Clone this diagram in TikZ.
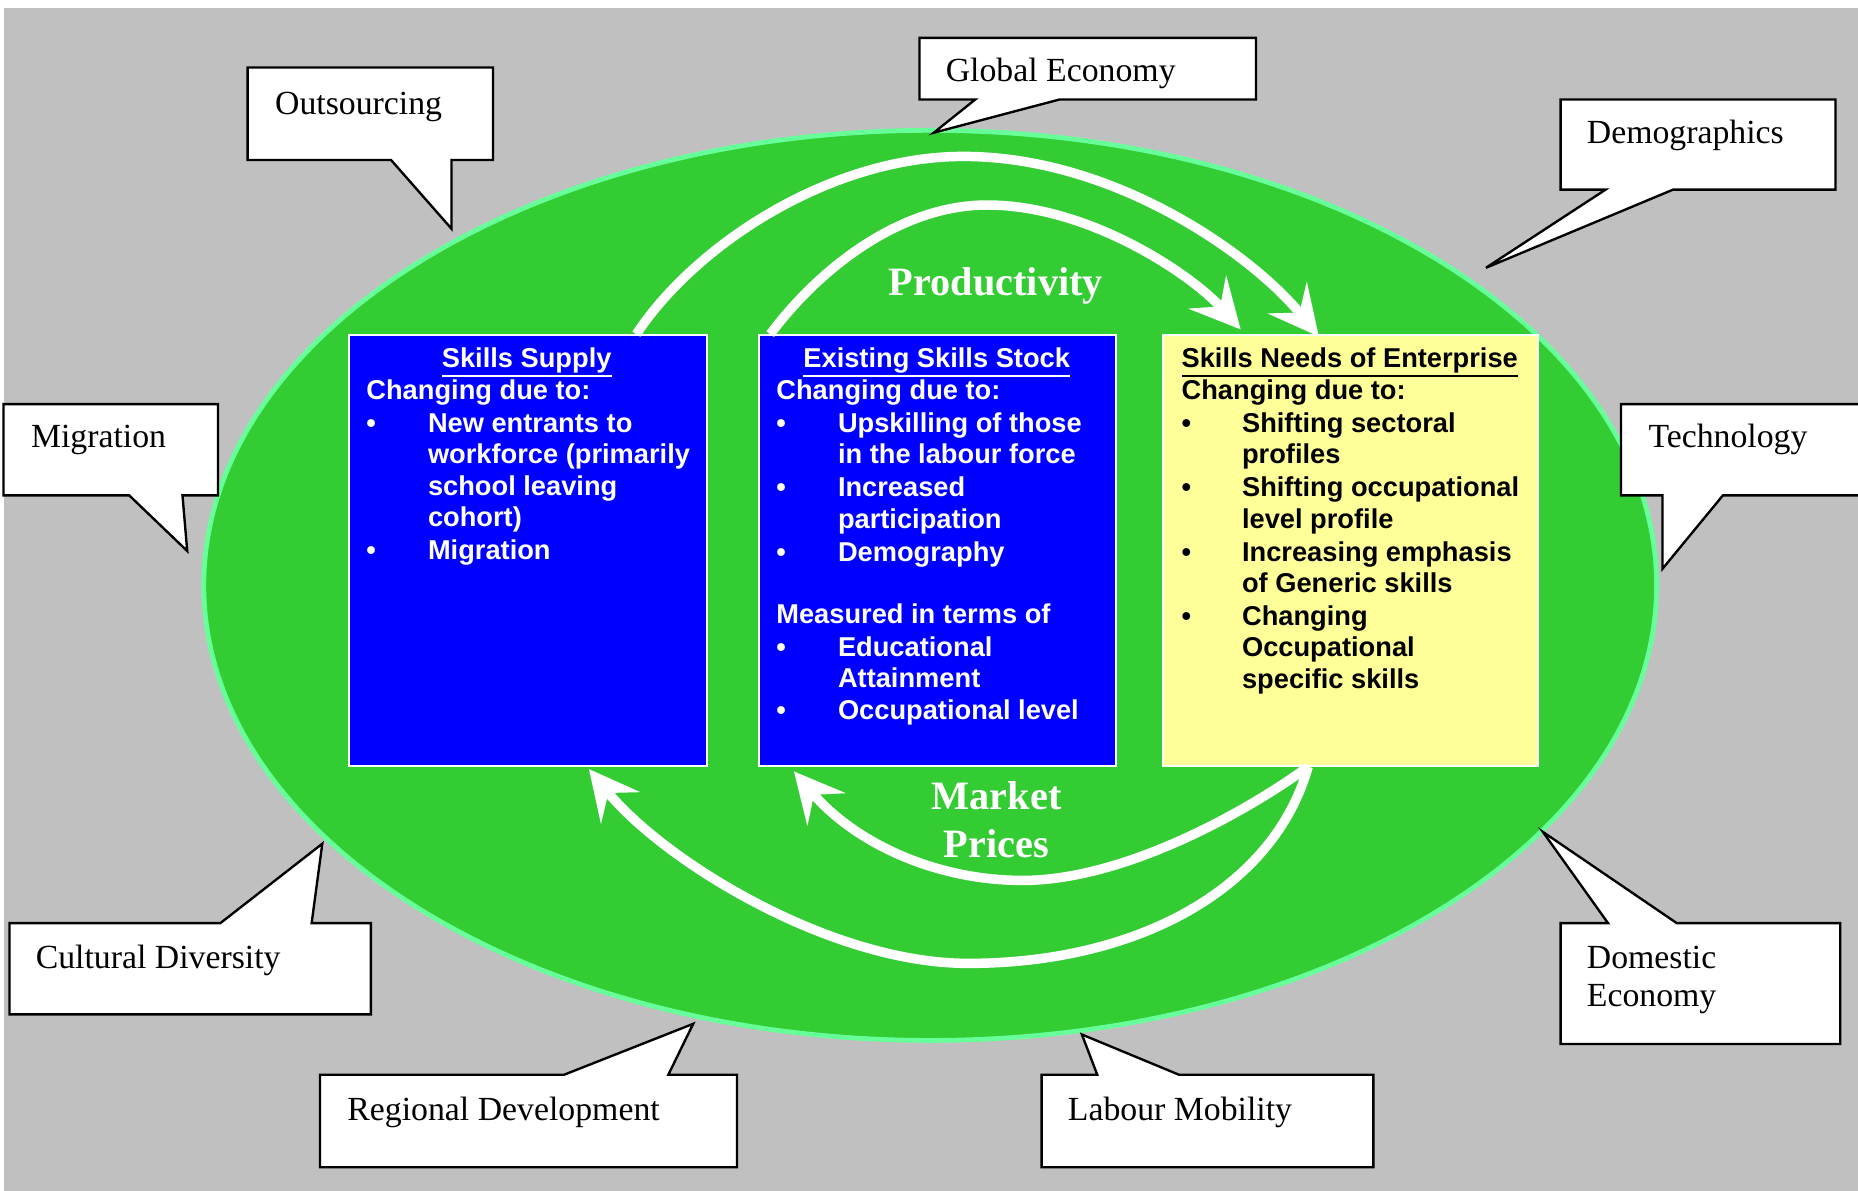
\documentclass[tikz,border=0pt]{standalone}
\usepackage{fontspec}
\setmainfont{Liberation Serif}
\newfontfamily\arialf{Liberation Sans}
\usetikzlibrary{arrows.meta,shapes.geometric}
\definecolor{bggray}{HTML}{C0C0C0}
\definecolor{fieldgreen}{HTML}{33CC33}
\definecolor{fieldedge}{HTML}{66FF99}
\definecolor{boxblue}{HTML}{0000FF}
\definecolor{boxyellow}{HTML}{FFFF99}
\newcommand{\ulin}[1]{\vtop{\hbox{#1}\kern1.6pt\hrule height 2pt}}
\begin{document}
\begin{tikzpicture}[x=1pt,y=-1pt,
  callout/.style={draw=black, line width=2pt, fill=white, line join=miter},
  ctext/.style={anchor=base west, inner sep=0pt, font=\fontsize{28.5}{34}\selectfont},
  btext/.style={anchor=base west, inner sep=0pt, font=\arialf\bfseries\fontsize{23}{26}\selectfont, text=white},
  ytext/.style={btext, text=black},
  infobox/.style={draw=white, line width=1.5pt, anchor=north west, inner sep=0pt},
  flow/.style={draw=white, line width=8pt, -{Stealth[length=42pt, width=42pt, inset=16pt]}},
  bigword/.style={inner sep=0pt, text=white, font=\bfseries\fontsize{34}{40}\selectfont}]
\useasboundingbox (0,0) rectangle (1568,1005);
\fill[white] (0,0) rectangle (1568,1005);
\fill[bggray] (3.5,6.5) rectangle (1570,1007);

% central field
\node[ellipse, fill=fieldgreen, draw=fieldedge, line width=4pt, minimum width=1226pt, minimum height=768pt, inner sep=0pt] (field) at (785,494) {};

% callouts
\path[callout] (209,57) -- (416,57) -- (416,135) -- (381,135) -- (381,193) -- (330,135) -- (209,135) -- cycle;
\node[ctext] (outsourcing) at (232,97) {Outsourcing};
\path[callout] (776,32) -- (1060,32) -- (1060,84) -- (894,84) -- (788,112) -- (823,84) -- (776,84) -- cycle;
\node[ctext] (global) at (798,69) {Global Economy};
\path[callout] (1317,84) -- (1549,84) -- (1549,160) -- (1412,160) -- (1254,226) -- (1355,160) -- (1317,160) -- cycle;
\node[ctext] (demo) at (1339,121) {Demographics};
\path[callout] (3,341) -- (184,341) -- (184,418) -- (154,418) -- (158,465) -- (109,418) -- (3,418) -- cycle;
\node[ctext] (migr) at (26,378) {Migration};
\path[callout] (1368,341) -- (1600,341) -- (1600,418) -- (1454,418) -- (1403,480) -- (1403,418) -- (1368,418) -- cycle;
\node[ctext] (tech) at (1391,378) {Technology};
\path[callout] (8,779) -- (186,779) -- (272,712) -- (263,779) -- (313,779) -- (313,856) -- (8,856) -- cycle;
\node[ctext] (cult) at (30,817) {Cultural Diversity};
\path[callout] (270,907) -- (476,907) -- (585,864) -- (564,907) -- (622,907) -- (622,985) -- (270,985) -- cycle;
\node[ctext] (regio) at (293,946) {Regional Development};
\path[callout] (879,907) -- (926,907) -- (913,873) -- (995,907) -- (1159,907) -- (1159,985) -- (879,985) -- cycle;
\node[ctext] (labour) at (901,946) {Labour Mobility};
\path[callout] (1317,779) -- (1357,779) -- (1302,702) -- (1415,779) -- (1553,779) -- (1553,881) -- (1317,881) -- cycle;
\node[ctext] (domes1) at (1339,817) {Domestic};
\node[ctext] (domes2) at (1339,849) {Economy};

% boxes
\node[infobox, fill=boxblue, minimum width=302pt, minimum height=364pt] (supply) at (294,282) {};
\node[infobox, fill=boxblue, minimum width=301pt, minimum height=364pt] (stock) at (640,282) {};
\node[infobox, fill=boxyellow, minimum width=316pt, minimum height=364pt] (needs) at (981,282) {};

% Skills Supply text
\node[btext, anchor=base] (s0) at (444.5,310) {\ulin{Skills Supply}};
\node[btext] (s1) at (309,337) {Changing due to:};
\node[btext] (sb1) at (309,365) {•};
\node[btext] (s2) at (361,365) {New entrants to};
\node[btext] (s3) at (361,391) {workforce (primarily};
\node[btext] (s4) at (361,418) {school leaving};
\node[btext] (s5) at (361,444) {cohort)};
\node[btext] (sb2) at (309,472) {•};
\node[btext] (s6) at (361,472) {Migration};

% Existing Skills Stock text
\node[btext, anchor=base] (e0) at (790.5,310) {\ulin{Existing Skills Stock}};
\node[btext] (e1) at (655,337) {Changing due to:};
\node[btext] (eb1) at (655,365) {•};
\node[btext] (e2) at (707,365) {Upskilling of those};
\node[btext] (e3) at (707,391) {in the labour force};
\node[btext] (eb2) at (655,419) {•};
\node[btext] (e4) at (707,419) {Increased};
\node[btext] (e5) at (707,446) {participation};
\node[btext] (eb3) at (655,474) {•};
\node[btext] (e6) at (707,474) {Demography};
\node[btext] (e7) at (655,526) {Measured in terms of};
\node[btext] (eb4) at (655,554) {•};
\node[btext] (e8) at (707,554) {Educational};
\node[btext] (e9) at (707,580) {Attainment};
\node[btext] (eb5) at (655,607) {•};
\node[btext] (e10) at (707,607) {Occupational level};

% Skills Needs text
\node[ytext] (n0) at (997,310) {\ulin{Skills Needs of Enterprise}};
\node[ytext] (n1) at (997,337) {Changing due to:};
\node[ytext] (nb1) at (997,365) {•};
\node[ytext] (n2) at (1048,365) {Shifting sectoral};
\node[ytext] (n3) at (1048,391) {profiles};
\node[ytext] (nb2) at (997,419) {•};
\node[ytext] (n4) at (1048,419) {Shifting occupational};
\node[ytext] (n5) at (1048,446) {level profile};
\node[ytext] (nb3) at (997,474) {•};
\node[ytext] (n6) at (1048,474) {Increasing emphasis};
\node[ytext] (n7) at (1048,500) {of Generic skills};
\node[ytext] (nb4) at (997,528) {•};
\node[ytext] (n8) at (1048,528) {Changing};
\node[ytext] (n9) at (1048,554) {Occupational};
\node[ytext] (n10) at (1048,581) {specific skills};

% connector end points on the boxes
\coordinate (supTop) at (537,282);
\coordinate (stoTop) at (650,282);
\coordinate (needTopA) at (1113,284);
\coordinate (needTopB) at (1047,278);
\coordinate (needBot) at (1104,647);
\coordinate (supBot) at (497,649);
\coordinate (stoBot) at (670,651);

% flows
\draw[flow] (supTop) .. controls (586.5,207) and (700,132) .. (813,132) .. controls (940,132) and (1057,215) .. (needTopA);
\draw[flow] (stoTop) .. controls (692,226) and (760,173) .. (833,173) .. controls (920,173) and (1007,233) .. (needTopB);
\draw[flow] (needBot) .. controls (1075,750) and (960,813) .. (817,813) .. controls (700,813) and (559.5,726) .. (supBot);
\draw[flow] (needBot) .. controls (1055,683) and (950,743) .. (863,743) .. controls (790,743) and (722,711.8) .. (stoBot);

% labels
\node[bigword, anchor=base west] (prod) at (750,249) {Productivity};
\node[bigword, anchor=base] (mkt1) at (841,683.5) {Market};
\node[bigword, anchor=base] (mkt2) at (841,723.5) {Prices};
\end{tikzpicture}
\end{document}
